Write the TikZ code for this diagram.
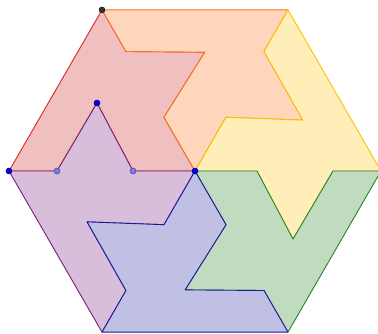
\documentclass[tikz,border=0pt]{standalone}
\usepackage{tikz}
\definecolor{redF}{RGB}{240,191,192}\definecolor{redL}{RGB}{225,35,35}
\definecolor{oraF}{RGB}{253,214,188}\definecolor{oraL}{RGB}{255,112,30}
\definecolor{yelF}{RGB}{255,238,183}\definecolor{yelL}{RGB}{250,195,0}
\definecolor{grnF}{RGB}{192,219,192}\definecolor{grnL}{RGB}{40,130,40}
\definecolor{bluF}{RGB}{191,192,228}\definecolor{bluL}{RGB}{25,25,150}
\definecolor{purF}{RGB}{216,190,218}\definecolor{purL}{RGB}{120,30,120}
\definecolor{dotB}{RGB}{0,0,230}\definecolor{dotL}{RGB}{120,120,240}
\definecolor{dotK}{RGB}{50,50,50}
\tikzset{
  piece/.style={line width=0.9pt, line join=round},
  dotstyle/.style={circle, inner sep=0pt, minimum size=6pt, draw=#1!60!black, fill=#1, line width=0.5pt}
}
\newcommand{\piecepath}{(0,0) -- (180:62) -- (145.24:119.3) -- (180:138) -- (180:186) -- (120:186) -- (120:138) -- (85.24:119.3) -- (120:62) -- cycle}
\begin{document}
\begin{tikzpicture}[x=1pt,y=1pt]
\useasboundingbox (-195,-162) rectangle (183,171);
\foreach \k/\f/\l in {0/redF/redL, 1/oraF/oraL, 2/yelF/yelL, 3/grnF/grnL, 5/purF/purL, 4/bluF/bluL}{
  \begin{scope}[rotate=-60*\k]
    \draw[piece, fill=\f, draw=\l] \piecepath;
  \end{scope}
}
\coordinate (C) at (0,0);
\coordinate (V1) at (120:186);
\coordinate (V0) at (180:186);
\coordinate (A) at (180:138);
\coordinate (B) at (145.24:119.3);
\coordinate (D) at (180:62);
\node[dotstyle=dotK] (dV1) at (V1) {};
\node[dotstyle=dotB] (dV0) at (V0) {};
\node[dotstyle=dotL] (dA) at (A) {};
\node[dotstyle=dotB] (dB) at (B) {};
\node[dotstyle=dotL] (dD) at (D) {};
\node[dotstyle=dotB] (dC) at (C) {};
\end{tikzpicture}
\end{document}
